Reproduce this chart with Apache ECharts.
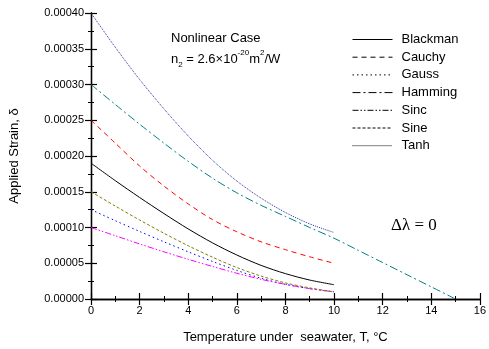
<!DOCTYPE html>
<html><head><meta charset="utf-8">
<script src="https://cdn.jsdelivr.net/npm/echarts@6/dist/echarts.min.js"></script>
<style>html,body{margin:0;padding:0;background:#fff}#c{width:489px;height:349px}</style>
</head><body><div id="c"></div>
<script>
// Temperatures (°C)
const temps10 = [0,1,2,3,4,5,6,7,8,9,10];
const temps15 = [0,1,2,3,4,5,6,7,8,9,10,11,12,13,14,15];
// Applied strain values
const blackman = [0.0001900,0.0001655,0.0001420,0.0001195,0.0000980,0.0000785,0.0000615,0.0000470,0.0000355,0.0000265,0.0000200];
const cauchy   = [0.000250,0.000218,0.000186,0.000158,0.000133,0.000111,0.000094,0.000080,0.000069,0.000059,0.000050];
const gauss    = [0.0001250,0.0001095,0.0000945,0.0000800,0.0000660,0.0000525,0.0000400,0.0000290,0.0000205,0.0000145,0.0000100];
const hamming  = [0.0003000,0.0002720,0.0002445,0.0002180,0.0001925,0.0001690,0.0001485,0.0001310,0.0001155,0.0001000,0.0000850,0.0000680,0.0000510,0.0000340,0.0000170,0.0000000];
const sinc     = [0.0001000,0.0000885,0.0000770,0.0000660,0.0000555,0.0000455,0.0000360,0.0000275,0.0000205,0.0000145,0.0000100];
const sine     = [0.0001500,0.0001300,0.0001105,0.0000920,0.0000745,0.0000585,0.0000440,0.0000320,0.0000225,0.0000155,0.0000100];
const tanh     = [0.000400,0.000352,0.000307,0.000266,0.000228,0.000194,0.000165,0.000141,0.000121,0.000105,0.000093];
const seriesNames = ['Blackman','Cauchy','Gauss','Hamming','Sinc','Sine','Tanh'];

const pairs = (xs, ys) => ys.map((v,i)=>[xs[i], v]);
const styles = {
  Blackman:{color:'#000000', type:'solid', data:pairs(temps10, blackman)},
  Cauchy:{color:'#ff0000', type:[5,4], data:pairs(temps10, cauchy)},
  Gauss:{color:'#0000ff', type:[1.5,3], data:pairs(temps10, gauss)},
  Hamming:{color:'#008080', type:[8,3,2,3], data:pairs(temps15, hamming)},
  Sinc:{color:'#ff00ff', type:[6,2,1.5,2,1.5,2], data:pairs(temps10, sinc)},
  Sine:{color:'#808000', type:[3,2], data:pairs(temps10, sine)},
  Tanh:{color:'#3030a0', type:[1,1], data:pairs(temps10, tanh)}
};

const font = 'Liberation Sans, Arial, sans-serif';
const chart = echarts.init(document.getElementById('c'), null, {renderer:'canvas'});
const axisCommon = {
  axisLine:{show:true, lineStyle:{color:'#000', width:1.3}},
  axisTick:{show:true, inside:true, length:6, lineStyle:{color:'#000', width:1.2}},
  minorTick:{show:true, splitNumber:2, length:3, lineStyle:{color:'#000', width:1}},
  splitLine:{show:false}
};
const option = {
  animation:false,
  backgroundColor:'#fff',
  grid:{left:91, right:5, top:13, bottom:47},
  xAxis:[
    Object.assign({type:'value', min:0, max:16, interval:2, position:'bottom',
      axisLabel:{color:'#000', fontSize:11, fontFamily:font, margin:6},
      name:'Temperature under  seawater, T, °C', nameLocation:'middle', nameGap:32,
      nameTextStyle:{color:'#000', fontSize:13, fontFamily:font}}, axisCommon),
    Object.assign({type:'value', min:0, max:16, interval:2, position:'top', axisLabel:{show:false}}, axisCommon)
  ],
  yAxis:[
    Object.assign({type:'value', min:0, max:0.0004, interval:0.00005, position:'left',
      axisLabel:{color:'#000', fontSize:11, fontFamily:font, margin:7, formatter:v=>v.toFixed(5)},
      name:'Applied Strain, δ', nameLocation:'middle', nameGap:70,
      nameTextStyle:{color:'#000', fontSize:13, fontFamily:font}}, axisCommon),
    Object.assign({type:'value', min:0, max:0.0004, interval:0.00005, position:'right', axisLabel:{show:false}}, axisCommon)
  ],
  legend:{
    orient:'vertical', left:347, top:28, itemWidth:40, itemHeight:12, itemGap:4.7,
    data:seriesNames,
    textStyle:{color:'#000', fontSize:13, fontFamily:font, padding:[0,0,0,4]},
    itemStyle:{opacity:0},
    lineStyle:{color:'#000', width:1}
  },
  graphic:[
    {type:'text', left:171, top:32, style:{text:'Nonlinear Case', fill:'#000', font:'13px '+font}},
    {type:'text', left:171, top:49, style:{
      text:'n{sub|2} = 2.6×10{sup|-20}m{sup|2}/W', fill:'#000', font:'13px '+font,
      rich:{sub:{fontSize:8, fontFamily:font, verticalAlign:'bottom', lineHeight:20, fill:'#000'},
            sup:{fontSize:8, fontFamily:font, verticalAlign:'top', lineHeight:20, fill:'#000'}}
    }},
    {type:'text', left:391, top:217, style:{text:'Δλ = 0', fill:'#000', font:'17px Liberation Serif, Times New Roman, serif'}}
  ],
  series: seriesNames.map(n=>({
    name:n, type:'line', data:styles[n].data, smooth:0.3, symbol:'none', showSymbol:false,
    xAxisIndex:0, yAxisIndex:0,
    color:styles[n].color,
    lineStyle:{color:styles[n].color, width:1, type:styles[n].type}
  }))
};
chart.setOption(option);
</script></body></html>
